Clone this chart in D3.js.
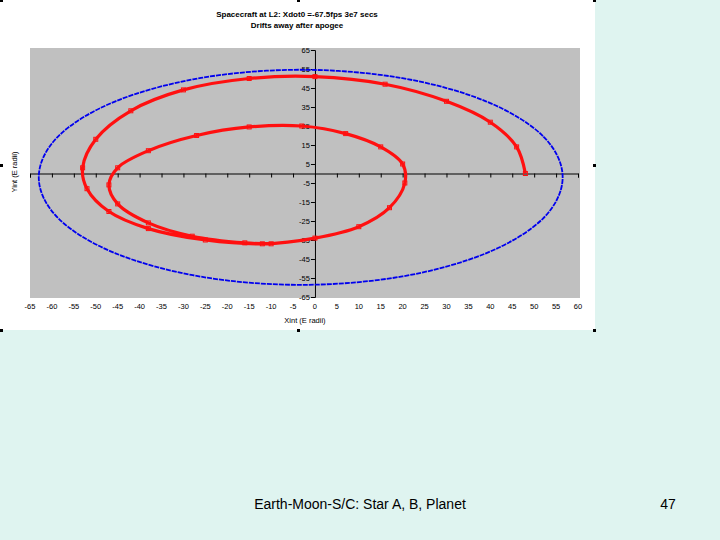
<!DOCTYPE html>
<html><head><meta charset="utf-8">
<script src="https://cdn.jsdelivr.net/npm/d3@7"></script>
<style>body{margin:0;background:#dff4f0;}svg{display:block;font-family:Arial,"Liberation Sans",sans-serif;}</style>
</head><body>
<svg id="vis" width="720" height="540"></svg>
<script>
// chart values
let xTicks = d3.range(-65, 61, 5)
let yTicks = d3.range(-65, 66, 10)

// blue orbit (Xint, Yint)
let blueX = [56.5, 52, 39, 19.6, -3.3, -26, -45.5, -58.5, -63, -58.5, -45.5, -26, -3.3, 19.6, 39, 52]
let blueY = [-2, 19.7, 38, 50.3, 54.6, 50.3, 38, 19.7, -2, -23.7, -42, -54.3, -58.6, -54.3, -42, -23.7]

// red spiral (Xint, Yint)
let redX = [48, 46, 40, 30, 16, 0, -15, -30, -42, -50, -53, -52, -47, -38, -25, -12, 0, 10, 17, 20.5, 20, 15, 7, -3, -15, -27, -38, -45, -47, -45, -38, -28, -16, -10]
let redY = [0, 14, 27, 38, 47, 51, 50, 44, 33, 18, 3, -8, -20, -29, -35, -37, -34, -28, -18, -5, 5, 14, 21, 25, 24.5, 20, 12, 3, -6, -16, -26, -33, -36.5, -37]

let svg = d3.select('#vis')

svg.append('rect').attr('x', 0).attr('y', 0).attr('width', 595).attr('height', 330).attr('fill', 'white')

let x = d3.scaleLinear().domain([-65, 60]).range([30, 578])
let y = d3.scaleLinear().domain([-65, 65]).range([297, 50])

svg.append('rect').attr('x', 30).attr('y', 48).attr('width', 550).attr('height', 250).attr('fill', '#c0c0c0')

// title
svg.append('text').attr('x', 297).attr('y', 17).attr('text-anchor', 'middle')
    .attr('font-size', 8).attr('font-weight', 'bold').text('Spacecraft at L2:  Xdot0 =-67.5fps 3e7 secs')
svg.append('text').attr('x', 297).attr('y', 28).attr('text-anchor', 'middle')
    .attr('font-size', 8).attr('font-weight', 'bold').text('Drifts away after apogee')

// axes through origin
let xAxis = svg.append('g').attr('transform', 'translate(0,' + y(0) + ')')
    .call(d3.axisBottom(x).tickValues(xTicks).tickSize(4).tickFormat(''))
xAxis.select('.domain').attr('stroke', 'black')
let yAxis = svg.append('g').attr('transform', 'translate(' + x(0) + ',0)')
    .call(d3.axisLeft(y).tickValues(yTicks).tickSize(4).tickFormat(''))
yAxis.select('.domain').attr('stroke', 'black')

// tick labels
svg.append('g').selectAll('text').data(xTicks).join('text')
    .attr('x', d => x(d)).attr('y', 309).attr('text-anchor', 'middle')
    .attr('font-size', 7.5).text(d => d)
svg.append('g').selectAll('text').data(yTicks).join('text')
    .attr('x', x(0) - 5).attr('y', d => y(d) + 3).attr('text-anchor', 'end')
    .attr('font-size', 7.5).text(d => d)

svg.append('text').attr('x', 305).attr('y', 323).attr('text-anchor', 'middle')
    .attr('font-size', 7.5).text('Xint (E radii)')
svg.append('text').attr('transform', 'translate(17,172) rotate(-90)').attr('text-anchor', 'middle')
    .attr('font-size', 7.5).text('Yint (E radii)')

// blue orbit
let blue = blueX.map((d, i) => [d, blueY[i]])
svg.append('path').datum(blue)
    .attr('d', d3.line().x(d => x(d[0])).y(d => y(d[1])).curve(d3.curveCardinalClosed))
    .attr('fill', 'none').attr('stroke', '#0000ee').attr('stroke-width', 1.8).attr('stroke-dasharray', '5,1')

// red spiral
let red = redX.map((d, i) => [d, redY[i]])
svg.append('path').datum(red)
    .attr('d', d3.line().x(d => x(d[0])).y(d => y(d[1])).curve(d3.curveCatmullRom))
    .attr('fill', 'none').attr('stroke', '#ff1010').attr('stroke-width', 3.2)
svg.append('g').selectAll('rect').data(red).join('rect')
    .attr('x', d => x(d[0]) - 2).attr('y', d => y(d[1]) - 2)
    .attr('width', 4).attr('height', 4).attr('fill', 'none').attr('stroke', '#ff1010')

// handles
let handles = [[0, 0], [297, 0], [593, 0], [0, 165], [593, 165], [0, 330], [297, 330], [593, 330]]
svg.append('g').selectAll('rect').data(handles).join('rect')
    .attr('x', d => d[0]).attr('y', d => d[1] - 1).attr('width', 3).attr('height', 3).attr('fill', 'black')

// footer
svg.append('text').attr('x', 360).attr('y', 509).attr('text-anchor', 'middle')
    .attr('font-size', 14).text('Earth-Moon-S/C: Star A, B, Planet')
svg.append('text').attr('x', 668).attr('y', 509).attr('text-anchor', 'middle')
    .attr('font-size', 14).text('47')
</script>
</body></html>
